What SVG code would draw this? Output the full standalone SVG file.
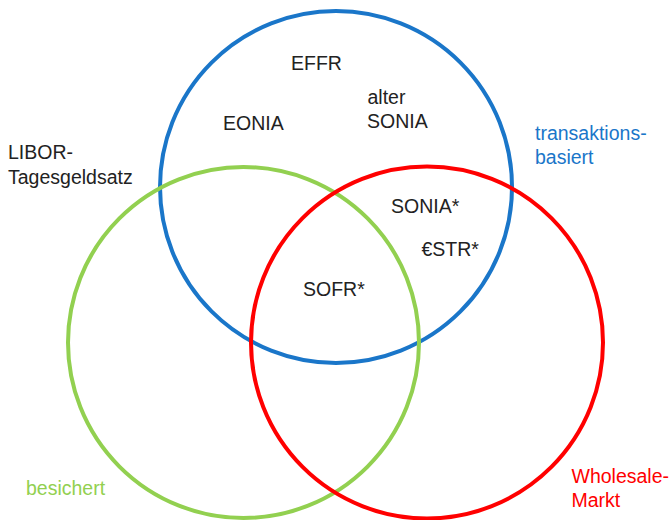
<svg xmlns="http://www.w3.org/2000/svg" width="672" height="520" viewBox="0 0 672 520">
  <style>
    .set { fill: none; stroke-width: 4; }
    .lbl { font-family: "Liberation Sans", Arial, sans-serif; font-size: 19.5px; fill: #222; }
    .blue { stroke: #1a76c9; }
    .green { stroke: #92d050; }
    .red { stroke: #ff0000; }
    .tblue { fill: #1a76c9; }
    .tgreen { fill: #92d050; }
    .tred { fill: #ff0000; }
  </style>
  <rect width="672" height="520" fill="#ffffff"/>

  <!-- three overlapping sets -->
  <g id="sets">
    <g id="set-transaktionsbasiert">
      <circle class="set blue" cx="336" cy="187" r="176"/>
    </g>
    <g id="set-besichert">
      <circle class="set green" cx="243.5" cy="342.5" r="175.5"/>
    </g>
    <g id="set-wholesale">
      <circle class="set red" cx="427" cy="342.5" r="176"/>
    </g>
  </g>

  <!-- set captions -->
  <g id="caption-transaktionsbasiert">
    <text class="lbl tblue" x="535" y="140">transaktions-</text>
    <text class="lbl tblue" x="535" y="164">basiert</text>
  </g>
  <g id="caption-besichert">
    <text class="lbl tgreen" x="26" y="495">besichert</text>
  </g>
  <g id="caption-wholesale">
    <text class="lbl tred" x="571.5" y="482.5">Wholesale-</text>
    <text class="lbl tred" x="571.5" y="506.5">Markt</text>
  </g>

  <!-- rates -->
  <g id="rate-effr"><text class="lbl" x="291" y="69.5">EFFR</text></g>
  <g id="rate-eonia"><text class="lbl" x="223" y="130">EONIA</text></g>
  <g id="rate-alter-sonia">
    <text class="lbl" x="367.5" y="103.5">alter</text>
    <text class="lbl" x="367" y="127.5">SONIA</text>
  </g>
  <g id="rate-libor">
    <text class="lbl" x="8" y="158.5">LIBOR-</text>
    <text class="lbl" x="8" y="183.5">Tagesgeldsatz</text>
  </g>
  <g id="rate-sonia"><text class="lbl" x="391" y="212.5">SONIA*</text></g>
  <g id="rate-estr"><text class="lbl" x="421.5" y="256">€STR*</text></g>
  <g id="rate-sofr"><text class="lbl" x="303" y="296">SOFR*</text></g>

  <g id="connectors"/>
</svg>
